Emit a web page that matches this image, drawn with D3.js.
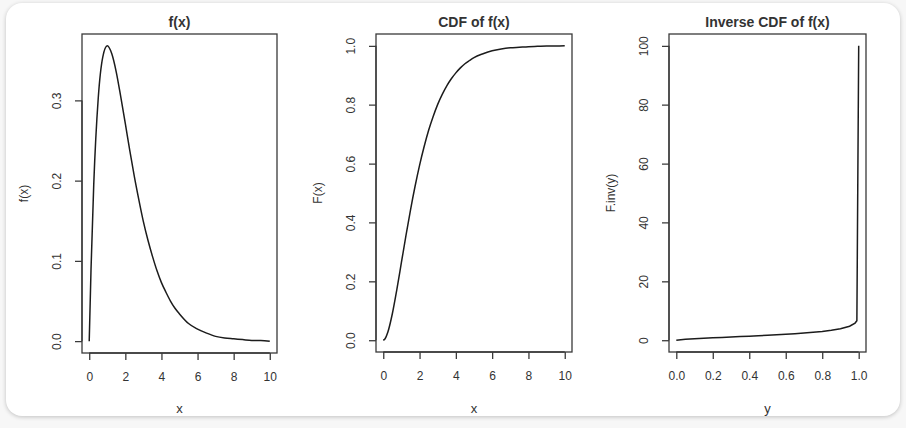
<!DOCTYPE html>
<html>
<head>
<meta charset="utf-8">
<script src="https://cdnjs.cloudflare.com/ajax/libs/d3/7.8.5/d3.min.js"></script>
<style>
  html, body { margin: 0; padding: 0; width: 906px; height: 428px; background: #f7f7f7; overflow: hidden; }
  #card { position: absolute; left: 6px; top: 3px; width: 894px; height: 413px; background: #fff;
          border-radius: 16px; overflow: hidden; box-shadow: 0 1px 4px rgba(0,0,0,0.22); }
  #card svg { position: absolute; left: -6px; top: -3px; }
  text { font-family: "Liberation Sans", Arial, sans-serif; fill: #333; }
</style>
</head>
<body>
<div id="card"></div>
<script>
// ---- Data ----
const xValues = [0, 0.1, 0.25, 0.5, 0.75, 1, 1.25, 1.5, 1.75, 2, 2.25, 2.5, 2.75, 3, 3.25, 3.5, 3.75, 4,
                 4.25, 4.5, 4.75, 5, 5.5, 6, 6.5, 7, 7.5, 8, 8.5, 9, 9.5, 10];
const densityValues = [0, 0.090, 0.195, 0.303, 0.354, 0.368, 0.358, 0.335, 0.304, 0.271, 0.237, 0.205, 0.176,
                       0.149, 0.126, 0.106, 0.088, 0.073, 0.061, 0.050, 0.041, 0.034, 0.022, 0.015, 0.010,
                       0.006, 0.004, 0.003, 0.002, 0.001, 0.001, 0.000];
const cdfValues = [0, 0.005, 0.027, 0.090, 0.173, 0.264, 0.355, 0.442, 0.522, 0.594, 0.657, 0.713, 0.760,
                   0.801, 0.835, 0.864, 0.888, 0.908, 0.925, 0.939, 0.950, 0.960, 0.973, 0.983, 0.989,
                   0.993, 0.995, 0.997, 0.998, 0.999, 0.999, 1.000];
const yValues = [0, 0.05, 0.1, 0.15, 0.2, 0.25, 0.3, 0.35, 0.4, 0.45, 0.5, 0.55, 0.6, 0.65, 0.7, 0.75,
                 0.8, 0.85, 0.9, 0.95, 0.98, 0.99, 1.0];
const invValues = [0, 0.355, 0.532, 0.683, 0.824, 0.961, 1.097, 1.236, 1.376, 1.524, 1.678, 1.843, 2.022,
                   2.22, 2.439, 2.693, 2.994, 3.372, 3.89, 4.744, 5.83, 6.64, 100];

const xTicks1 = [0, 2, 4, 6, 8, 10];
const yTicks1 = [0.0, 0.1, 0.2, 0.3];
const yTicks2 = [0.0, 0.2, 0.4, 0.6, 0.8, 1.0];
const xTicks3 = [0.0, 0.2, 0.4, 0.6, 0.8, 1.0];
const yTicks3 = [0, 20, 40, 60, 80, 100];

const panels = [
  { title: "f(x)", xlab: "x", ylab: "f(x)", xs: xValues, ys: densityValues,
    xticks: xTicks1, yticks: yTicks1, xfmt: d3.format("d"), yfmt: d3.format(".1f"),
    box: { l: 82, r: 277, t: 34, b: 353 } },
  { title: "CDF of f(x)", xlab: "x", ylab: "F(x)", xs: xValues, ys: cdfValues,
    xticks: xTicks1, yticks: yTicks2, xfmt: d3.format("d"), yfmt: d3.format(".1f"),
    box: { l: 376, r: 572, t: 34, b: 352 } },
  { title: "Inverse CDF of f(x)", xlab: "y", ylab: "F.inv(y)", xs: yValues, ys: invValues,
    xticks: xTicks3, yticks: yTicks3, xfmt: d3.format(".1f"), yfmt: d3.format("d"),
    box: { l: 669, r: 866, t: 34, b: 352 } }
];

const svg = d3.select("#card").append("svg").attr("width", 906).attr("height", 428);

function pad(ext) { const r = ext[1] - ext[0]; return [ext[0] - 0.04 * r, ext[1] + 0.04 * r]; }

panels.forEach(p => {
  const B = p.box;
  const x = d3.scaleLinear().domain(pad(d3.extent(p.xs))).range([B.l, B.r]);
  const y = d3.scaleLinear().domain(pad(d3.extent(p.ys))).range([B.b, B.t]);
  const g = svg.append("g");

  // curve
  const data = p.xs.map((v, i) => [v, p.ys[i]]);
  const line = d3.line().x(d => x(d[0])).y(d => y(d[1]))
    .curve(p.title.startsWith("Inverse") ? d3.curveLinear : d3.curveMonotoneX);
  g.append("path").datum(data).attr("d", line)
    .attr("fill", "none").attr("stroke", "#1c1c1c").attr("stroke-width", 1.5);

  // box
  g.append("rect").attr("x", B.l).attr("y", B.t).attr("width", B.r - B.l).attr("height", B.b - B.t)
    .attr("fill", "none").attr("stroke", "#3a3a3a").attr("stroke-width", 1.3);

  // x axis
  const xa = g.append("g").attr("transform", `translate(0,${B.b})`)
    .call(d3.axisBottom(x).tickValues(p.xticks).tickFormat(p.xfmt).tickSizeInner(7).tickSizeOuter(0).tickPadding(12));
  xa.select(".domain").attr("d", `M${x(p.xticks[0])},0H${x(p.xticks[p.xticks.length - 1])}`)
    .attr("stroke", "#3a3a3a").attr("stroke-width", 1.3);
  xa.selectAll(".tick line").attr("stroke", "#3a3a3a").attr("stroke-width", 1.3);
  xa.selectAll(".tick text").attr("font-size", 12).attr("fill", "#333")
    .attr("font-family", "'Liberation Sans', Arial, sans-serif");

  // y axis
  const ya = g.append("g").attr("transform", `translate(${B.l},0)`)
    .call(d3.axisLeft(y).tickValues(p.yticks).tickFormat(p.yfmt).tickSizeInner(7).tickSizeOuter(0).tickPadding(0));
  ya.select(".domain").attr("d", `M0,${y(p.yticks[0])}V${y(p.yticks[p.yticks.length - 1])}`)
    .attr("stroke", "#3a3a3a").attr("stroke-width", 1.3);
  ya.selectAll(".tick line").attr("stroke", "#3a3a3a").attr("stroke-width", 1.3);
  ya.selectAll(".tick text")
    .attr("x", null).attr("dy", null)
    .attr("transform", "translate(-21,0) rotate(-90)")
    .attr("text-anchor", "middle").attr("font-size", 12).attr("fill", "#333")
    .attr("font-family", "'Liberation Sans', Arial, sans-serif");

  // title
  g.append("text").attr("x", (B.l + B.r) / 2).attr("y", 27).attr("text-anchor", "middle")
    .attr("font-size", 14).attr("font-weight", "bold").attr("fill", "#222").text(p.title);
  // x label
  g.append("text").attr("x", (B.l + B.r) / 2).attr("y", 413).attr("text-anchor", "middle")
    .attr("font-size", 13).text(p.xlab);
  // y label
  g.append("text").attr("transform", `translate(${B.l - 54},${(B.t + B.b) / 2}) rotate(-90)`)
    .attr("text-anchor", "middle").attr("font-size", 12).text(p.ylab);
});
</script>
</body>
</html>
